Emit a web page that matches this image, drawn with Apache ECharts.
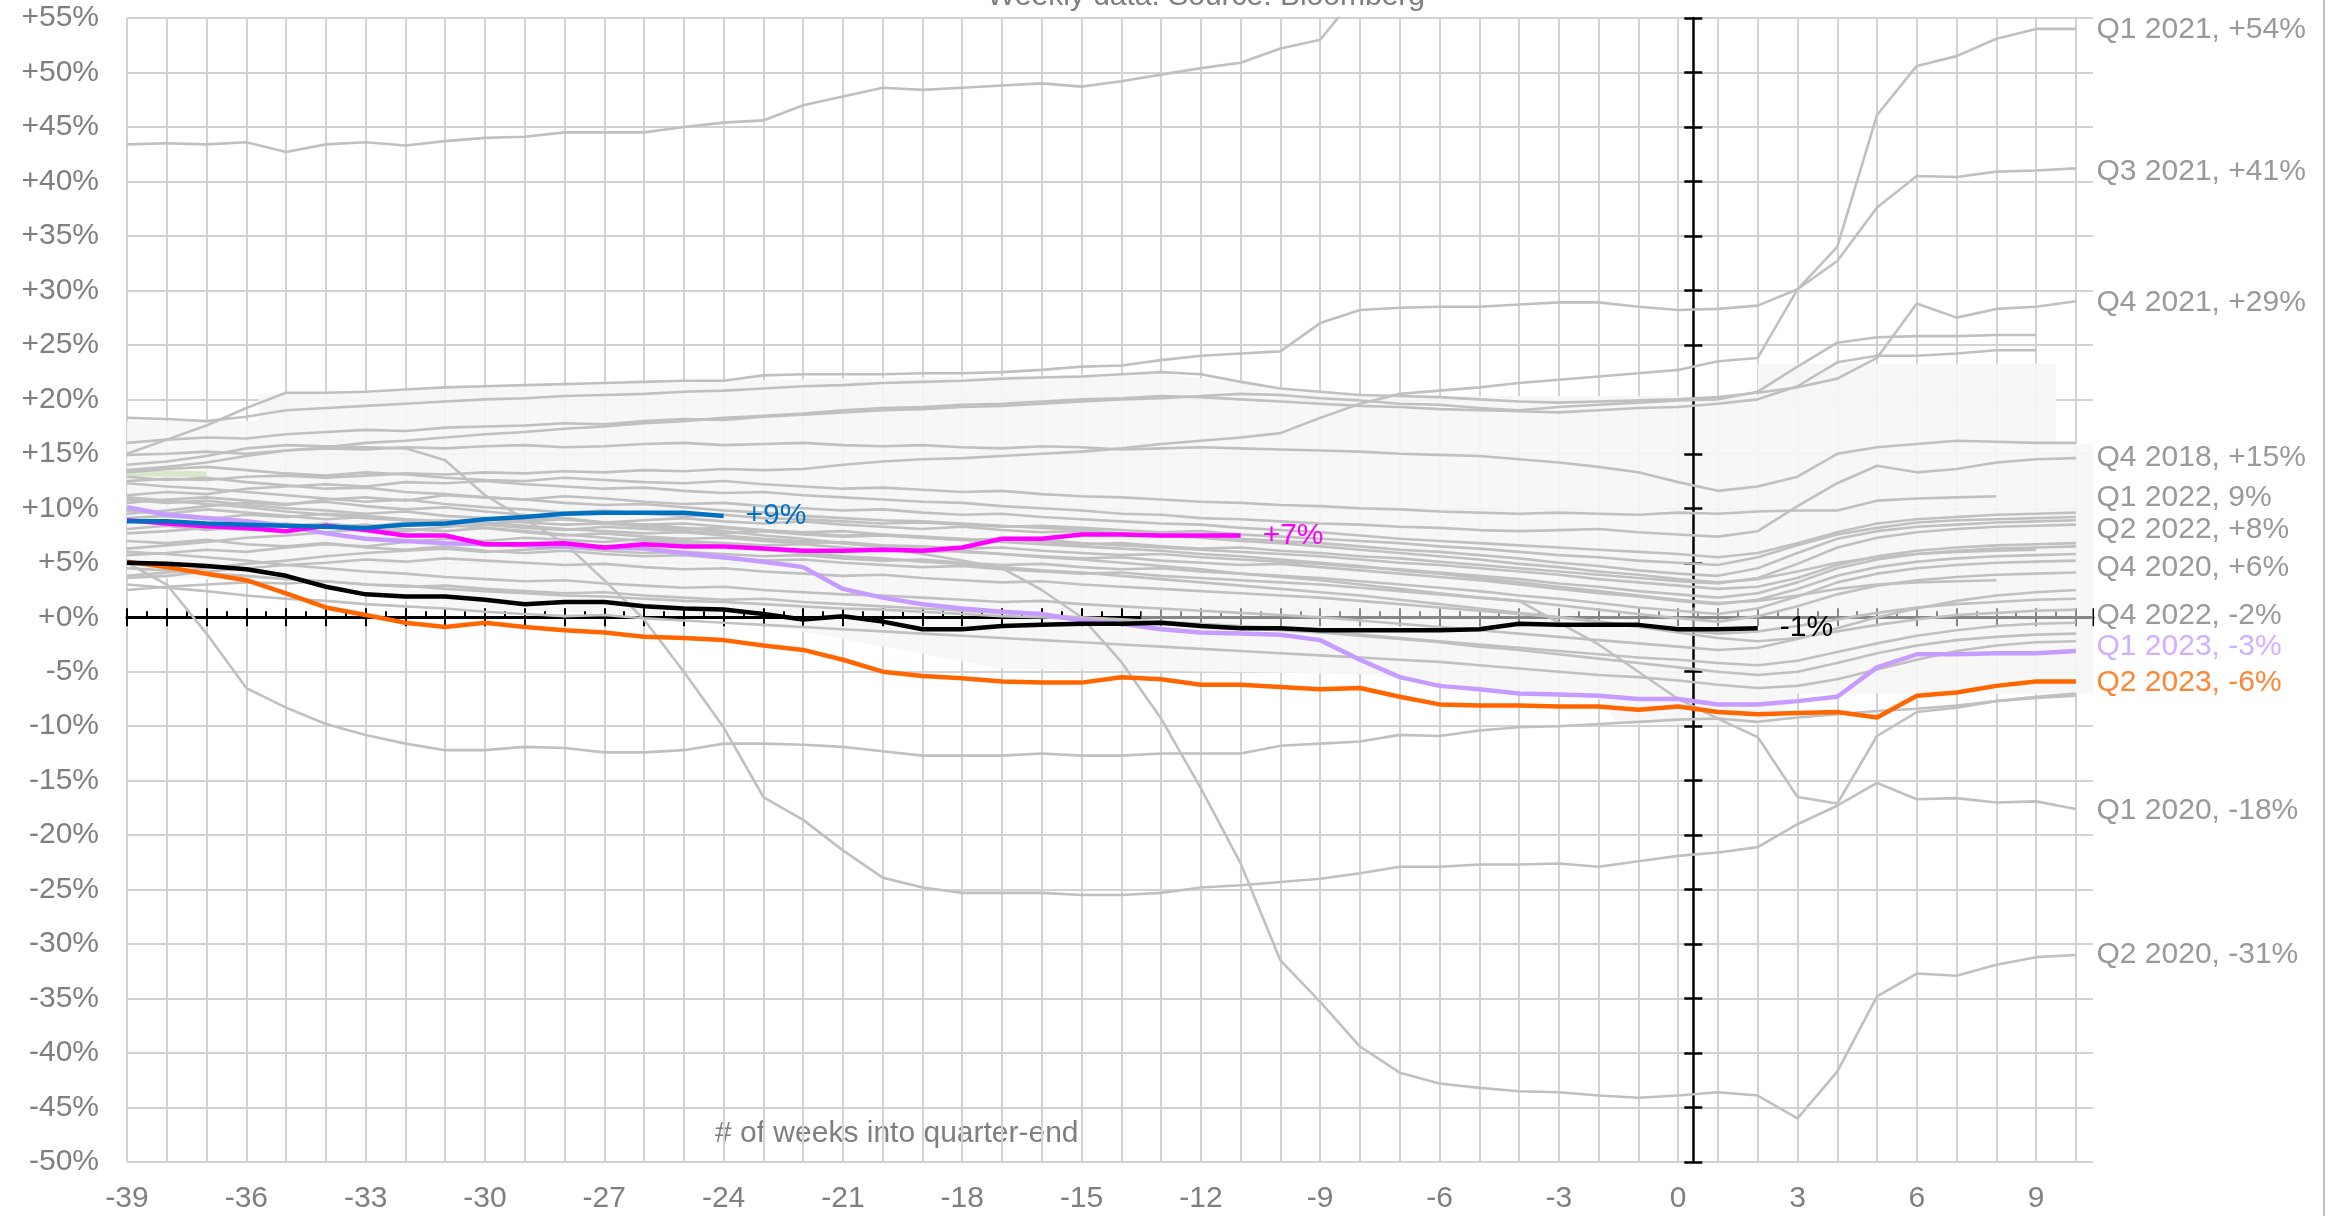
<!DOCTYPE html>
<html><head><meta charset="utf-8">
<script src="https://cdn.jsdelivr.net/npm/echarts@6/dist/echarts.min.js"></script>
<style>html,body{margin:0;padding:0;background:#fff}#c{width:2349px;height:1216px}</style>
</head><body><div id="c"></div>
<script>
const FONT = "'Liberation Sans', Arial, sans-serif";
const TXT = '#7f7f7f';
const GRID = '#d2d2d2';
const GRAY = '#c0c0c0';

const weeks = [-39,-38,-37,-36,-35,-34,-33,-32,-31,-30,-29,-28,-27,-26,-25,-24,-23,-22,-21,-20,
  -19,-18,-17,-16,-15,-14,-13,-12,-11,-10,-9,-8,-7,-6,-5,-4,-3,-2,-1,0,1,2,3,4,5,6,7,8,9,10];

// highlighted quarters
const q2_2023 = [5.1,4.6,4.0,3.4,2.2,0.9,0.2,-0.5,-0.9,-0.5,
  -0.9,-1.2,-1.4,-1.8,-1.9,-2.1,-2.6,-3.0,-3.9,-5.0,
  -5.4,-5.6,-5.9,-6.0,-6.0,-5.5,-5.7,-6.2,-6.2,-6.4,
  -6.6,-6.5,-7.3,-8.0,-8.1,-8.1,-8.2,-8.2,-8.5,-8.2,
  -8.7,-8.9,-8.8,-8.7,-9.2,-7.2,-6.9,-6.3,-5.9,-5.9];
const q1_2023 = [10.1,9.4,9.1,8.8,8.4,7.7,7.2,7.0,6.8,6.7,
  6.6,6.5,6.4,6.3,5.9,5.5,5.1,4.6,2.6,1.8,
  1.2,0.8,0.5,0.3,-0.3,-0.6,-1.1,-1.4,-1.5,-1.6,
  -2.1,-3.9,-5.5,-6.3,-6.6,-7.0,-7.1,-7.2,-7.5,-7.5,
  -8.0,-8.0,-7.7,-7.3,-4.6,-3.4,-3.4,-3.3,-3.3,-3.1];
const blackQ = [5.0,4.9,4.7,4.4,3.8,2.8,2.1,1.9,1.9,1.6,
  1.2,1.4,1.4,1.0,0.8,0.7,0.3,-0.2,0.1,-0.4,
  -1.1,-1.1,-0.8,-0.7,-0.6,-0.6,-0.5,-0.8,-1.0,-1.0,
  -1.2,-1.2,-1.2,-1.2,-1.1,-0.6,-0.7,-0.7,-0.7,-1.1,
  -1.1,-1.0];
const blueQ = [8.8,8.8,8.6,8.5,8.4,8.3,8.2,8.5,8.6,9.0,9.2,9.5,9.6,9.6,9.6,9.3];
const magentaQ = [8.9,8.6,8.35,8.2,7.9,8.4,8.0,7.5,7.5,6.7,
  6.7,6.8,6.4,6.7,6.5,6.5,6.3,6.1,6.1,6.2,
  6.1,6.4,7.2,7.2,7.6,7.6,7.5,7.5,7.5];

// grey history
const gTop = [43.4,43.5,43.4,43.6,42.7,43.4,43.6,43.3,43.7,44.0,
  44.1,44.5,44.5,44.5,45.0,45.4,45.6,47.0,47.8,48.6,
  48.4,48.6,48.8,49.0,48.7,49.2,49.8,50.4,50.9,52.2,
  53.0,57.5,61.0];
const q3_2021 = [15.0,16.3,17.6,19.2,20.6,20.6,20.7,20.9,21.1,21.2,
  21.3,21.4,21.5,21.6,21.7,21.7,22.2,22.3,22.3,22.3,
  22.4,22.4,22.5,22.7,23.0,23.1,23.6,24.0,24.2,24.4,
  27.0,28.2,28.4,28.5,28.5,28.7,28.9,28.9,28.5,28.2,
  28.3,28.6,30.1,32.7,37.6,40.5,40.4,40.9,41.0,41.2];
const q1_2021 = [12.5,12.7,12.6,12.9,13.0,12.8,13.0,13.2,13.1,13.3,
  13.2,13.4,13.3,13.5,13.4,13.6,13.5,13.6,14.0,14.3,
  14.5,14.6,14.8,15.0,15.2,15.5,15.9,16.2,16.5,16.9,
  18.3,19.6,20.5,20.8,21.1,21.5,21.8,22.1,22.4,22.7,
  23.5,23.8,30.1,34.0,46.1,50.6,51.5,53.1,54.0,54.0];
const q4_2021 = [18.3,18.2,18.0,18.4,19.0,19.2,19.4,19.6,19.8,20.0,
  20.1,20.3,20.4,20.5,20.7,20.8,21.0,21.2,21.3,21.5,
  21.6,21.7,21.9,22.0,22.1,22.3,22.5,22.3,21.6,21.0,
  20.7,20.4,20.3,20.2,20.0,19.8,19.7,19.8,19.9,20.0,
  20.2,20.6,21.1,21.9,23.8,28.8,27.5,28.3,28.5,29.0];
const g5 = [16.0,16.3,16.5,16.4,16.8,17.0,17.2,17.1,17.4,17.5,
  17.6,17.8,17.7,18.0,18.2,18.1,18.4,18.6,18.8,19.0,
  19.1,19.3,19.4,19.6,19.8,20.0,20.1,20.3,20.5,20.4,
  20.1,19.9,19.6,19.5,19.2,19.0,19.3,19.5,19.7,19.9,
  20.0,20.7,23.0,25.2,25.7,25.8,25.8,25.9,25.9];
const g6 = [13.5,13.8,14.2,14.8,15.3,15.6,16.0,16.2,16.5,16.8,
  17.0,17.3,17.5,17.8,18.0,18.3,18.5,18.7,19.0,19.2,
  19.3,19.5,19.6,19.8,20.0,20.1,20.3,20.2,20.0,19.8,
  19.6,19.4,19.3,19.1,19.0,18.9,18.8,19.0,19.2,19.3,
  19.6,20.0,21.2,23.4,24.0,24.0,24.2,24.5,24.5];
const q4_2018 = [14.9,15.0,15.2,15.0,15.3,15.5,15.4,15.6,15.5,15.7,
  15.8,15.6,15.7,15.9,16.0,15.8,15.9,16.0,15.8,15.7,
  15.8,15.6,15.5,15.7,15.6,15.4,15.5,15.6,15.5,15.4,
  15.3,15.2,15.0,14.9,14.8,14.5,14.2,13.8,13.3,12.4,
  11.6,12.0,12.9,15.0,15.6,15.9,16.2,16.1,16.0,16.0];
const g8 = [11.2,11.5,11.3,11.8,12.0,12.2,12.0,12.4,12.3,12.5,
  12.2,12.0,11.8,11.9,11.6,11.4,11.5,11.2,11.0,10.8,
  10.6,10.5,10.2,10.0,9.8,9.5,9.4,9.1,9.0,8.8,
  8.6,8.5,8.3,8.2,8.0,7.9,8.0,8.1,7.8,7.6,
  7.4,7.9,10.2,12.3,13.9,13.3,13.6,14.2,14.5,14.6];
const q1_2022 = [13.3,13.6,13.8,13.5,13.2,13.0,13.3,13.1,12.8,12.6,
  12.5,12.8,12.6,12.4,12.3,12.5,12.2,12.0,11.8,11.9,
  11.7,11.5,11.6,11.3,11.1,11.0,10.8,10.6,10.5,10.3,
  10.2,10.0,9.9,9.7,9.6,9.5,9.6,9.5,9.4,9.6,
  9.5,9.7,9.8,9.8,10.7,10.9,11.0,11.1];
const c3 = [9.5,9.8,10.2,10.5,10.3,10.8,11.0,10.7,11.2,11.0,
  10.8,11.1,10.9,10.6,10.4,10.5,10.2,10.0,9.8,9.9,
  9.6,9.4,9.5,9.2,9.0,8.8,8.6,8.5,8.2,8.0,
  7.8,7.5,7.2,7.0,6.8,6.6,6.4,6.2,6.0,5.8,
  5.5,5.9,6.8,7.8,8.6,9.0,9.2,9.4,9.5,9.6];
const c4 = [12.3,12.0,11.8,11.5,11.2,10.9,10.6,10.8,10.4,10.1,
  9.9,9.6,9.8,9.5,9.3,9.4,9.1,9.0,8.8,8.6,
  8.7,8.5,8.3,8.4,8.2,8.0,7.8,7.9,7.6,7.4,
  7.2,7.0,6.8,6.5,6.3,6.0,5.7,5.5,5.2,5.0,
  4.8,5.5,6.6,7.6,8.2,8.7,8.9,9.0,9.1,9.2];
const c5 = [7.7,7.9,8.2,8.0,8.4,8.6,8.3,8.7,8.9,8.6,
  8.8,9.0,8.7,8.9,9.1,8.8,8.6,8.8,8.5,8.3,
  8.1,8.3,8.0,7.8,7.9,7.6,7.4,7.5,7.2,7.0,
  6.8,6.5,6.2,6.0,5.7,5.4,5.0,4.7,4.3,4.0,
  3.8,4.5,5.9,7.2,7.9,8.3,8.5,8.7,8.8,8.9];
const c6 = [6.3,6.6,6.9,7.3,7.5,7.8,8.1,7.9,8.3,8.5,
  8.2,8.0,8.3,8.1,7.9,7.7,7.9,7.6,7.4,7.5,
  7.3,7.1,7.2,6.9,6.7,6.8,6.5,6.3,6.4,6.1,
  5.9,5.6,5.4,5.1,4.8,4.5,4.2,3.9,3.6,3.3,
  3.1,3.6,4.9,6.4,7.3,7.8,8.1,8.3,8.4,8.5];
const c7 = [10.8,10.5,10.7,10.3,10.0,9.8,9.5,9.7,9.3,9.1,
  8.9,9.1,8.7,8.5,8.6,8.3,8.0,7.8,7.9,7.6,
  7.4,7.2,7.0,7.1,6.8,6.6,6.4,6.2,6.0,5.8,
  5.6,5.3,5.0,4.8,4.5,4.2,3.9,3.5,3.2,2.9,
  2.6,2.8,3.6,4.8,5.6,6.1,6.4,6.6,6.7,6.8];
const c8 = [8.1,8.4,8.0,8.3,8.6,8.2,8.5,8.1,7.9,8.2,
  7.8,7.5,7.7,7.4,7.2,7.3,7.0,6.8,6.9,6.6,
  6.5,6.3,6.4,6.1,5.9,5.7,5.8,5.5,5.3,5.1,
  4.9,4.6,4.4,4.1,3.8,3.5,3.1,2.8,2.4,2.1,
  1.8,2.2,3.2,4.5,5.3,5.8,6.1,6.3,6.4,6.5];
const c9 = [5.7,5.9,6.2,6.0,6.4,6.7,6.5,6.9,7.2,7.0,
  7.3,7.1,6.9,7.2,7.0,6.8,6.6,6.7,6.4,6.2,
  6.0,6.1,5.8,5.6,5.4,5.5,5.2,5.0,4.8,4.9,
  4.6,4.3,4.0,3.7,3.4,3.0,2.6,2.2,1.9,1.5,
  1.2,1.6,2.6,3.8,4.6,5.1,5.4,5.6,5.7,5.8];
const c10 = [3.8,4.1,4.5,4.9,5.2,5.6,5.9,6.1,6.3,6.0,
  6.2,6.4,6.1,5.9,6.0,5.8,5.6,5.7,5.4,5.2,
  5.3,5.0,4.8,4.9,4.6,4.4,4.5,4.2,4.0,3.8,
  3.6,3.3,3.0,2.7,2.4,2.0,1.7,1.3,0.9,0.6,
  0.3,0.8,1.9,3.2,4.0,4.5,4.8,5.0,5.1,5.2];
const c11 = [7.0,6.8,7.1,6.7,6.5,6.8,6.4,6.2,6.5,6.1,
  5.9,6.1,5.8,5.6,5.7,5.4,5.2,5.3,5.0,4.8,
  4.6,4.7,4.4,4.2,4.0,4.1,3.8,3.6,3.4,3.2,
  3.0,2.7,2.4,2.1,1.8,1.5,1.1,0.7,0.3,-0.1,
  -0.4,0.1,1.0,2.1,2.9,3.4,3.7,3.9,4.0,4.1];
const c12 = [9.1,9.3,9.0,9.4,9.2,9.5,9.3,9.0,8.8,9.0,
  8.7,8.5,8.6,8.3,8.1,8.2,7.9,7.7,7.5,7.6,
  7.3,7.1,6.9,6.7,6.5,6.3,6.1,5.8,5.6,5.3,
  5.0,4.7,4.3,4.0,3.6,3.2,2.8,2.4,2.0,1.6,
  1.3,1.5,2.0,2.6,3.0,3.2,3.3,3.4];
const c13 = [3.6,3.8,4.2,4.5,4.8,5.0,5.3,5.1,5.4,5.2,
  5.0,4.8,4.9,4.6,4.4,4.5,4.2,4.0,3.8,3.9,
  3.6,3.4,3.2,3.3,3.0,2.8,2.6,2.4,2.2,2.0,
  1.8,1.5,1.2,0.9,0.6,0.3,0.0,-0.4,-0.8,-1.2,
  -1.5,-1.3,-0.8,-0.2,0.4,0.9,1.2,1.4,1.6,1.7];
const c14 = [11.0,10.7,10.4,10.1,9.7,9.4,9.1,8.9,8.5,8.2,
  7.9,7.6,7.3,7.0,6.8,6.5,6.2,5.9,5.6,5.4,
  5.1,4.9,4.6,4.3,4.1,3.8,3.5,3.2,2.9,2.6,
  2.3,2.0,1.6,1.2,0.8,0.4,0.0,-0.4,-0.9,-1.4,
  -1.9,-2.2,-1.9,-1.3,-0.7,-0.2,0.2,0.4,0.6,0.7];
const c15 = [4.5,4.3,4.0,3.8,3.5,3.3,3.0,2.9,2.6,2.4,
  2.2,2.0,1.9,1.7,1.5,1.4,1.2,1.0,0.8,0.7,
  0.5,0.3,0.1,0.0,-0.2,-0.4,-0.6,-0.8,-1.0,-1.2,
  -1.4,-1.7,-2.0,-2.3,-2.7,-3.0,-3.4,-3.8,-4.2,-4.6,
  -5.0,-5.3,-5.0,-4.2,-3.3,-2.6,-2.1,-1.8,-1.6,-1.5];
const c16 = [12.9,12.6,12.8,12.4,12.1,11.8,11.9,11.5,11.3,11.0,
  10.8,10.5,10.3,10.4,10.1,9.8,9.6,9.3,9.1,8.9,
  8.8,8.6,8.4,8.2,8.0,7.7,7.5,7.3,7.0,6.8,
  6.5,6.2,5.9,5.6,5.3,4.9,4.6,4.2,3.9,3.5,
  3.2,3.5,4.2,5.0,5.5,5.8,6.0,6.1,6.2];
const c17 = [6.0,5.8,5.5,5.2,4.8,4.5,4.2,4.0,3.7,3.5,
  3.3,3.4,3.1,2.9,2.7,2.8,2.5,2.3,2.1,2.0,
  1.8,1.6,1.4,1.5,1.2,1.0,0.8,0.6,0.4,0.2,
  0.0,-0.3,-0.6,-0.9,-1.2,-1.5,-1.8,-2.1,-2.4,-2.7,
  -3.0,-2.8,-2.0,-1.0,0.0,0.8,1.5,2.0,2.3,2.5];
const c18 = [2.5,2.8,3.0,3.2,3.1,3.3,3.0,2.8,2.9,2.6,
  2.4,2.2,2.3,2.0,1.8,1.6,1.7,1.4,1.2,1.0,
  0.8,0.6,0.4,0.2,0.0,-0.2,-0.4,-0.6,-0.8,-1.0,
  -1.3,-1.6,-1.9,-2.2,-2.5,-2.8,-3.1,-3.4,-3.7,-3.9,
  -4.2,-4.4,-4.0,-3.2,-2.4,-1.7,-1.2,-0.8,-0.6,-0.5];
const c19 = [3.0,2.7,2.4,2.0,1.7,1.5,1.2,1.0,0.8,0.5,
  0.3,0.1,0.2,-0.1,-0.3,-0.5,-0.7,-0.9,-1.1,-1.3,
  -1.5,-1.7,-1.9,-2.1,-2.3,-2.5,-2.7,-2.9,-3.1,-3.3,
  -3.5,-3.7,-3.9,-4.1,-4.4,-4.7,-5.0,-5.3,-5.5,-5.8,
  -6.2,-6.5,-6.3,-5.7,-4.8,-3.9,-3.1,-2.6,-2.3,-2.2];
const vDip = [9.8,9.5,9.9,9.6,9.3,9.0,9.2,8.9,8.6,8.7,
  8.4,8.1,7.9,7.7,7.8,7.5,7.2,7.0,6.8,6.5,
  6.3,6.0,5.8,5.5,5.3,5.0,4.7,4.4,4.0,3.7,
  3.4,3.0,2.6,2.2,1.8,1.5,-0.5,-2.5,-5.0,-7.5,
  -9.3,-11.0,-16.5,-17.1,-10.9,-8.7,-8.3,-7.7,-7.4,-7.2];
const flat12 = [5.0,3.0,-1.5,-6.5,-8.3,-9.8,-10.8,-11.6,-12.2,-12.2,
  -11.9,-12.0,-12.4,-12.4,-12.2,-11.6,-11.6,-11.7,-11.9,-12.3,
  -12.7,-12.7,-12.7,-12.5,-12.7,-12.7,-12.5,-12.5,-12.5,-11.8,
  -11.6,-11.4,-10.8,-10.9,-10.4,-10.1,-10.0,-9.8,-9.6,-9.4,
  -9.3,-9.6,-9.2,-8.9,-8.6,-8.4,-8.1,-7.7,-7.3,-7.0];
const q1_2020 = [14.0,14.3,14.8,15.5,15.8,15.7,15.6,15.5,14.4,11.2,
  9.0,6.8,3.4,-0.2,-5.0,-10.1,-16.5,-18.6,-21.4,-23.9,
  -24.8,-25.3,-25.3,-25.3,-25.5,-25.5,-25.3,-24.8,-24.6,-24.3,
  -24.0,-23.5,-22.9,-22.9,-22.7,-22.7,-22.6,-22.9,-22.4,-21.9,
  -21.6,-21.1,-19.0,-17.3,-15.2,-16.7,-16.6,-17.0,-16.9,-17.6];
const q2_2020 = [10.5,10.8,11.0,10.7,10.4,10.6,10.2,9.9,10.1,9.7,
  9.4,9.0,8.7,8.5,8.2,7.9,7.5,7.2,6.8,6.4,
  5.8,5.2,4.5,2.5,0.0,-4.1,-9.3,-15.7,-22.6,-31.5,
  -35.3,-39.4,-41.8,-42.8,-43.2,-43.5,-43.6,-43.9,-44.1,-43.9,
  -43.6,-43.9,-46.0,-41.7,-34.8,-32.7,-32.9,-31.9,-31.2,-31.0];
const greenStub = [13.2,13.2,13.1];

const greyLines = [gTop,q3_2021,q1_2021,q4_2021,g5,g6,q4_2018,g8,q1_2022,c3,c4,c5,c6,c7,c8,c9,c10,
  c11,c12,c13,c14,c15,c16,c17,c18,c19,vDip,flat12,q1_2020,q2_2020];

// right-hand annotations
const rightLabelText = ['Q1 2021, +54%','Q3 2021, +41%','Q4 2021, +29%','Q4 2018, +15%','Q1 2022, 9%',
  'Q2 2022, +8%','Q4 2020, +6%','Q4 2022, -2%','Q1 2023, -3%','Q2 2023, -6%','Q1 2020, -18%','Q2 2020, -31%'];
const rightLabelY = [53.9,40.9,28.9,14.6,11.0,8.0,4.5,0.1,-2.7,-6.0,-17.8,-31.0];
const rightLabelColor = [TXT,TXT,TXT,TXT,TXT,TXT,TXT,TXT,'#c79bff','#ff6600',TXT,TXT];

// light backdrop patch visible behind the cloud
const shadeOutline = [[-39,18.0],[-35.7,18.0],[-35.7,20.5],[-22.6,21.8],[-13,22.4],[-10,21.0],[-8,20.3],
  [2,20.3],[2,23.3],[9.5,23.3],[9.5,15.9],[10.43,15.9],[10.43,-7.0],[3,-7.0],[2.5,-9.8],[-1.5,-9.8],
  [-2,-7.5],[-8,-5.2],[-17,-4.7],[-21,-2.0],[-24,0.0],[-31,0.8],[-35,3.4],[-39,3.6]];
// part of the patch that veils the zero axis on the right
const veilOutline = [[-13.5,0.9],[10.43,0.9],[10.43,-0.9],[-13.5,-0.9]];

const XMAX = 10.43;
const pts = v => v.map((y, i) => [weeks[i], y]);

function patch(outline, fill, z){
  return {
    type: 'custom', silent: true, z, data: [[0, 0]],
    renderItem: (params, api) => ({
      type: 'polygon',
      shape: { points: outline.map(p => api.coord(p)) },
      style: { fill }
    })
  };
}

const series = [];
series.push(patch(shadeOutline, 'rgba(246,246,246,0.9)', 1));
series.push(patch(veilOutline, 'rgba(246,246,246,0.55)', 2.5));
series.push({type:'line', data: pts(greenStub), symbol:'none', silent:true, z:3,
  lineStyle:{color:'#d9e6cc', width:6}});
greyLines.forEach(v => series.push({
  type:'line', data: pts(v), symbol:'none', silent:true, z:3,
  lineStyle:{color:GRAY, width:2.6}
}));
function hl(vals, color, endText){
  const s = {type:'line', data: pts(vals), symbol:'none', silent:true, z:5,
    lineStyle:{color, width:4.5}};
  if (endText) s.endLabel = {show:true, formatter:endText, color, fontSize:30, fontFamily:FONT, distance:22};
  return s;
}
series.push(hl(q1_2023, '#c79bff'));
series.push(hl(magentaQ, '#ff00ff', '+7%'));
series.push(hl(blueQ, '#0070c0', '+9%'));
series.push(hl(q2_2023, '#ff6600'));
series.push(hl(blackQ, '#000000', '-1%'));
series.push({
  type:'scatter', clip:false, silent:true, symbolSize:1, itemStyle:{color:'rgba(0,0,0,0)'}, z:6,
  data: rightLabelY.map((y, i) => ({
    value:[XMAX, y],
    label:{show:true, position:'right', distance:3, formatter:rightLabelText[i],
      color:rightLabelColor[i], fontSize:30, fontFamily:FONT}
  }))
});

const chart = echarts.init(document.getElementById('c'));
chart.setOption({
  animation:false,
  backgroundColor:'#ffffff',
  grid:{left:127, right:256, top:18, bottom:54, containLabel:false},
  xAxis:[
    {type:'value', min:-39, max:XMAX, interval:1, position:'bottom',
     axisLine:{show:false, onZero:false}, axisTick:{show:false},
     axisLabel:{margin:22, fontSize:30, color:TXT, fontFamily:FONT,
       formatter: v => { const r = Math.round(v); return (Math.abs(v-r)<1e-6 && (r+39)%3===0) ? String(r) : ''; }},
     splitLine:{show:true, showMaxLine:false, lineStyle:{color:GRID, width:2}}},
    {type:'value', min:-39, max:XMAX, interval:1, position:'bottom', z:2,
     axisLine:{show:true, onZero:true, onZeroAxisIndex:0, lineStyle:{color:'#000', width:3}},
     axisTick:{show:true, inside:false, length:9, lineStyle:{color:'#000', width:2}},
     axisLabel:{show:false}, splitLine:{show:false}},
    {type:'value', min:-39, max:XMAX, interval:1, position:'bottom', z:2,
     axisLine:{show:false, onZero:true, onZeroAxisIndex:0},
     axisTick:{show:true, inside:true, length:9, lineStyle:{color:'#000', width:2}},
     minorTick:{show:true, splitNumber:2, length:6, lineStyle:{color:'#000', width:2}},
     axisLabel:{show:false}, splitLine:{show:false}},
    {type:'value', min:-39.38, max:XMAX-0.38, position:'bottom', show:false,
     axisLine:{onZero:false}}
  ],
  yAxis:[
    {type:'value', min:-50, max:55, interval:5, position:'left',
     axisLine:{show:false, onZero:false}, axisTick:{show:false},
     axisLabel:{margin:28, fontSize:30, color:TXT, fontFamily:FONT,
       formatter: v => (v >= 0 ? '+' : '') + v + '%'},
     splitLine:{show:true, lineStyle:{color:GRID, width:2}}},
    {type:'value', min:-50, max:55, interval:5, position:'left', z:2,
     axisLine:{show:true, onZero:true, onZeroAxisIndex:3, lineStyle:{color:'#000', width:2.5}},
     axisTick:{show:true, inside:false, length:9, lineStyle:{color:'#000', width:2.5}},
     axisLabel:{show:false}, splitLine:{show:false}},
    {type:'value', min:-50, max:55, interval:5, position:'left', z:2,
     axisLine:{show:false, onZero:true, onZeroAxisIndex:3},
     axisTick:{show:true, inside:true, length:9, lineStyle:{color:'#000', width:2.5}},
     axisLabel:{show:false}, splitLine:{show:false}}
  ],
  graphic:[
    {type:'text', x:1206, y:-3, silent:true,
     style:{text:'Weekly data. Source: Bloomberg', fill:TXT, fontSize:30, fontFamily:FONT, align:'center', verticalAlign:'middle'}},
    {type:'text', x:715, y:1134, silent:true,
     style:{text:'# of weeks into quarter-end', fill:TXT, fontSize:30, fontFamily:FONT, align:'left', verticalAlign:'middle'}},
    {type:'line', silent:true, shape:{x1:2324, y1:0, x2:2324, y2:1216}, style:{stroke:'#bfbfbf', lineWidth:2}}
  ],
  series
});
</script></body></html>
